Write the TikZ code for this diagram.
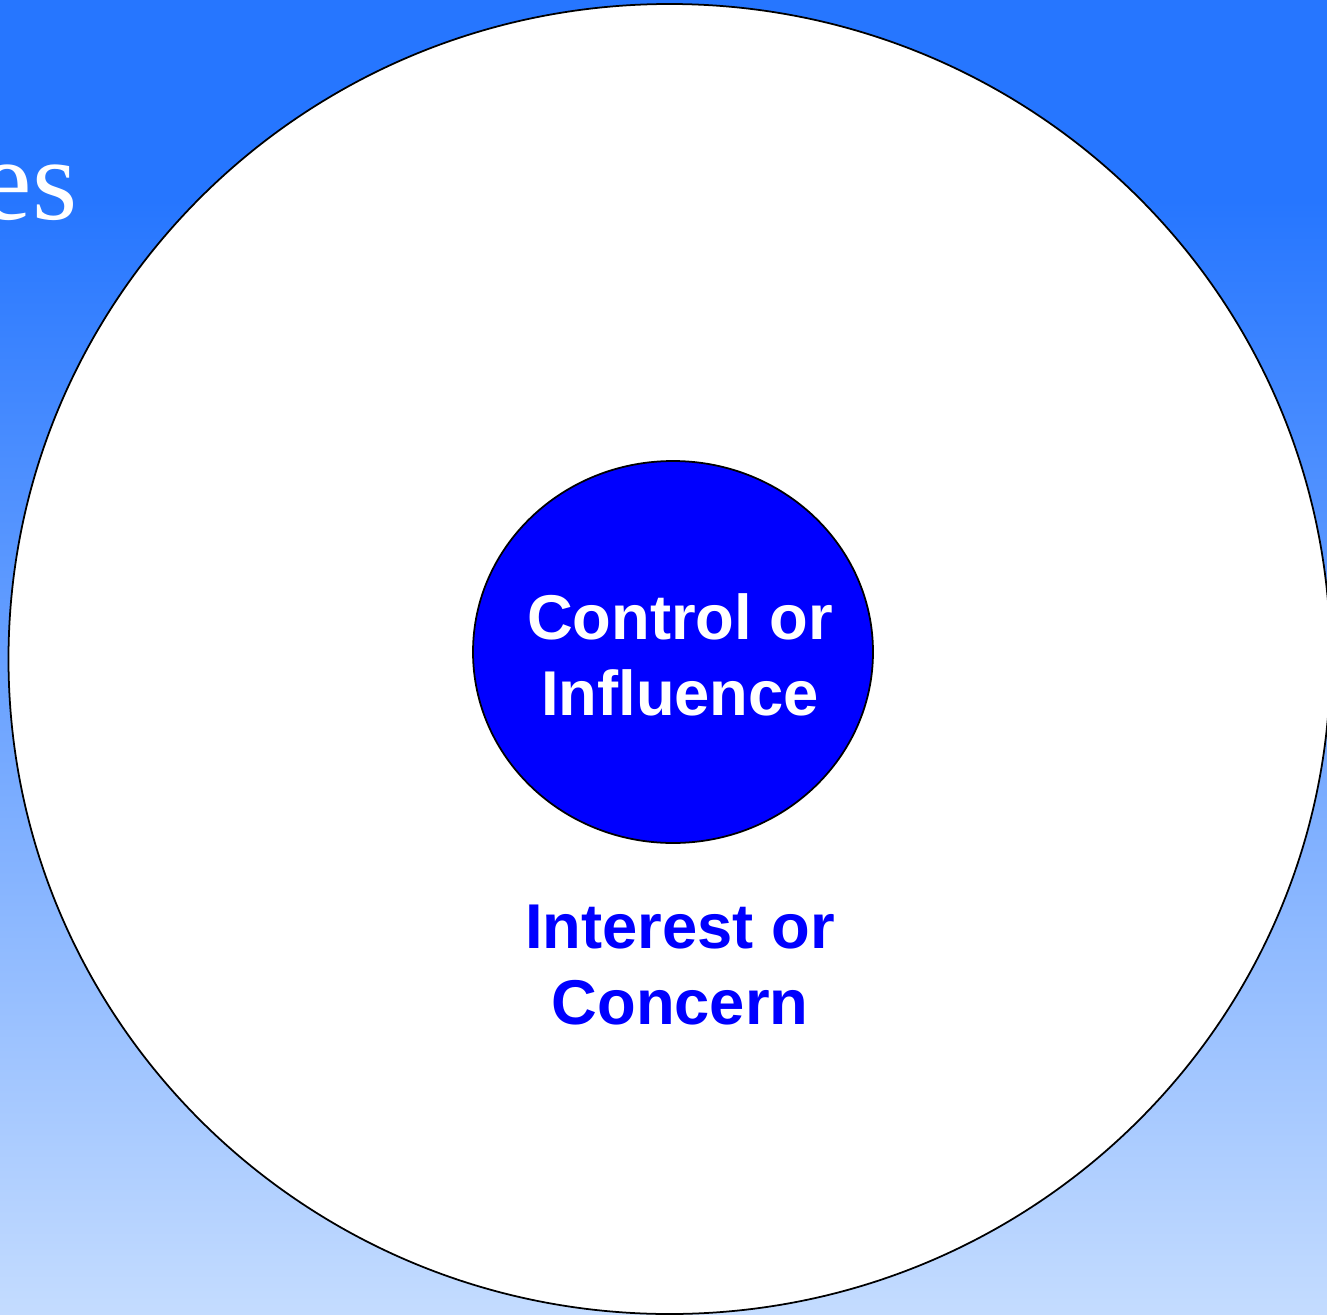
\documentclass[tikz,border=0pt]{standalone}
\usepackage{fontspec}
\setmainfont{Liberation Serif}
\setsansfont{Liberation Sans}
\usepackage{xcolor}
\usetikzlibrary{positioning}

\definecolor{skytop}{RGB}{38,118,255}
\definecolor{skylow}{RGB}{196,220,255}
\definecolor{coreblue}{RGB}{0,0,255}

\tikzset{
  ringlabel/.style={align=center, font=\sffamily\bfseries\fontsize{18}{21.8}\selectfont},
}

\begin{document}
\begin{tikzpicture}[x=0.01cm,y=-0.01cm]
    % 背景渐变
    \fill[skytop] (0,0) rectangle (1327,201);
    \shade[top color=skytop, bottom color=skylow] (0,200) rectangle (1327,1315);
    \useasboundingbox (0,0) rectangle (1327,1315);

    % 标题残字
    \node[anchor=base east, inner sep=0pt, text=white,
          font=\rmfamily\fontsize{33}{33}\selectfont] (title) at (78,219) {es};

    % 外圈：关注圈
    \draw[fill=white, line width=0.5pt] (669.5,659) ellipse [x radius=661, y radius=655];

    % 内圈：影响圈
    \draw[fill=coreblue, line width=0.5pt] (673,652) ellipse [x radius=200, y radius=191];

    % 文字
    \node[ringlabel, text=white] (inner) at (680,655) {Control or\\Influence};
    \node[ringlabel, text=coreblue] (outer) at (680,965) {Interest or\\Concern};

\end{tikzpicture}
\end{document}
